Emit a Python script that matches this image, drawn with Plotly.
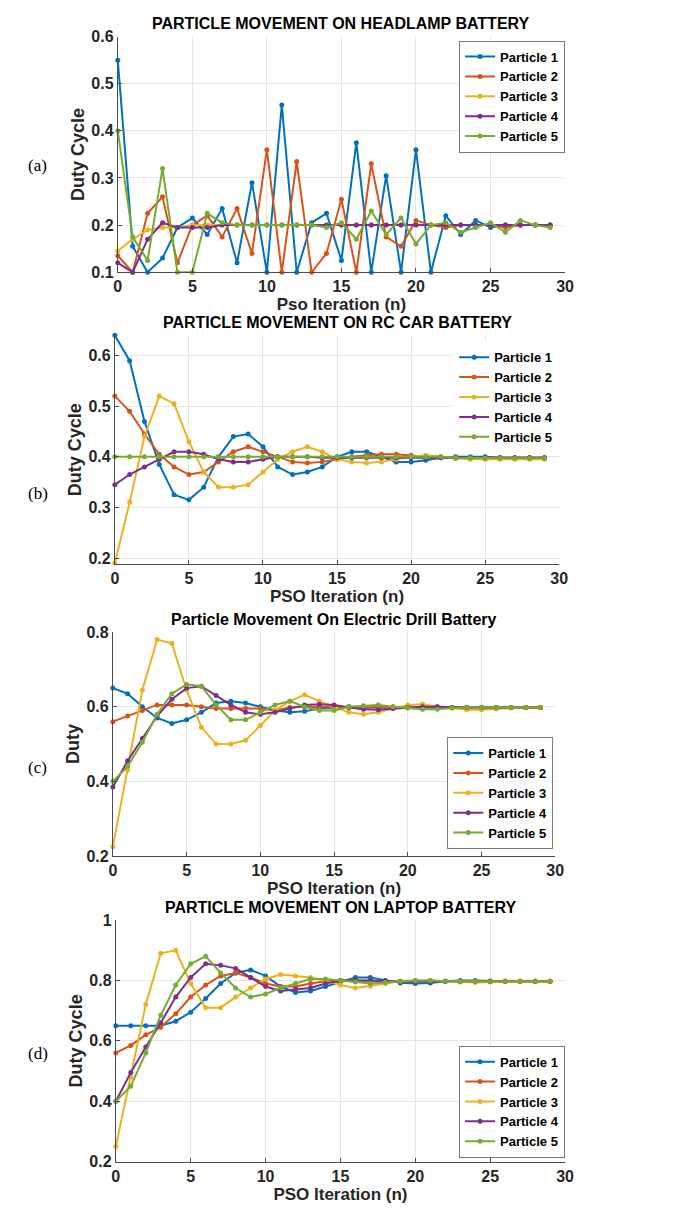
import plotly.graph_objects as go

iterations = list(range(30))
particle_names = ["Particle 1", "Particle 2", "Particle 3", "Particle 4", "Particle 5"]
colors = ["#0072BD", "#D95319", "#EDB120", "#7E2F8E", "#77AC30"]

# (a) Headlamp battery
headlamp_p1 = [0.55, 0.155, 0.10, 0.13, 0.195, 0.215, 0.18, 0.235, 0.12, 0.29, 0.10, 0.455, 0.10, 0.205, 0.225,
               0.125, 0.375, 0.10, 0.305, 0.10, 0.36, 0.10, 0.22, 0.18, 0.21, 0.195, 0.20, 0.20, 0.20, 0.20]
headlamp_p2 = [0.135, 0.10, 0.225, 0.26, 0.12, 0.20, 0.22, 0.175, 0.235, 0.14, 0.36, 0.10, 0.335, 0.10, 0.14,
               0.255, 0.10, 0.33, 0.175, 0.155, 0.21, 0.20, 0.195, 0.20, 0.20, 0.20, 0.195, 0.20, 0.20, 0.20]
headlamp_p3 = [0.145, 0.17, 0.19, 0.195, 0.195, 0.20, 0.20, 0.20, 0.20, 0.20, 0.20, 0.20, 0.20, 0.20, 0.20,
               0.20, 0.20, 0.20, 0.20, 0.20, 0.20, 0.20, 0.20, 0.20, 0.20, 0.20, 0.20, 0.20, 0.20, 0.20]
headlamp_p4 = [0.12, 0.10, 0.17, 0.205, 0.195, 0.195, 0.195, 0.20, 0.20, 0.20, 0.20, 0.20, 0.20, 0.20, 0.20,
               0.20, 0.20, 0.20, 0.20, 0.20, 0.20, 0.20, 0.20, 0.20, 0.20, 0.20, 0.20, 0.20, 0.20, 0.20]
headlamp_p5 = [0.40, 0.175, 0.125, 0.32, 0.10, 0.10, 0.225, 0.205, 0.20, 0.20, 0.20, 0.20, 0.20, 0.20, 0.195,
               0.205, 0.17, 0.23, 0.18, 0.215, 0.16, 0.20, 0.205, 0.185, 0.195, 0.205, 0.185, 0.21, 0.20, 0.195]

# (b) RC car battery
rc_p1 = [0.64, 0.59, 0.47, 0.385, 0.325, 0.315, 0.34, 0.40, 0.44, 0.445, 0.42, 0.38, 0.365, 0.37, 0.38,
         0.40, 0.41, 0.41, 0.40, 0.39, 0.39, 0.393, 0.398, 0.40, 0.40, 0.40, 0.398, 0.398, 0.398, 0.398]
rc_p2 = [0.52, 0.49, 0.445, 0.405, 0.38, 0.365, 0.37, 0.39, 0.41, 0.42, 0.41, 0.40, 0.39, 0.388, 0.39,
         0.395, 0.40, 0.403, 0.405, 0.405, 0.403, 0.40, 0.40, 0.397, 0.397, 0.398, 0.398, 0.398, 0.398, 0.398]
rc_p3 = [0.19, 0.31, 0.44, 0.52, 0.505, 0.43, 0.37, 0.34, 0.34, 0.345, 0.37, 0.395, 0.41, 0.42, 0.41,
         0.395, 0.39, 0.388, 0.39, 0.395, 0.40, 0.403, 0.40, 0.397, 0.395, 0.395, 0.395, 0.395, 0.395, 0.395]
rc_p4 = [0.345, 0.365, 0.38, 0.395, 0.41, 0.41, 0.405, 0.395, 0.39, 0.39, 0.395, 0.40, 0.40, 0.40, 0.398,
         0.398, 0.398, 0.398, 0.398, 0.398, 0.398, 0.398, 0.398, 0.398, 0.398, 0.398, 0.398, 0.398, 0.398, 0.398]
rc_p5 = [0.40, 0.40, 0.40, 0.40, 0.40, 0.40, 0.40, 0.40, 0.40, 0.40, 0.40, 0.40, 0.40, 0.40, 0.40,
         0.40, 0.40, 0.40, 0.40, 0.40, 0.40, 0.40, 0.40, 0.398, 0.398, 0.397, 0.397, 0.397, 0.397, 0.397]

# (c) Electric drill battery
drill_p1 = [0.65, 0.635, 0.60, 0.57, 0.555, 0.565, 0.585, 0.61, 0.615, 0.61, 0.60, 0.59, 0.585, 0.588, 0.595,
            0.598, 0.60, 0.598, 0.598, 0.598, 0.598, 0.598, 0.598, 0.598, 0.598, 0.598, 0.598, 0.598, 0.598, 0.598]
drill_p2 = [0.56, 0.575, 0.59, 0.605, 0.605, 0.605, 0.60, 0.595, 0.595, 0.595, 0.595, 0.59, 0.598, 0.60, 0.60,
            0.60, 0.60, 0.60, 0.60, 0.60, 0.60, 0.60, 0.60, 0.598, 0.598, 0.598, 0.598, 0.598, 0.598, 0.598]
drill_p3 = [0.225, 0.43, 0.645, 0.78, 0.77, 0.645, 0.545, 0.50, 0.50, 0.51, 0.55, 0.59, 0.615, 0.632, 0.615,
            0.60, 0.585, 0.58, 0.585, 0.595, 0.605, 0.607, 0.60, 0.597, 0.592, 0.592, 0.594, 0.597, 0.598, 0.598]
drill_p4 = [0.385, 0.455, 0.515, 0.575, 0.62, 0.65, 0.655, 0.63, 0.605, 0.585, 0.58, 0.585, 0.595, 0.605, 0.607,
            0.605, 0.598, 0.593, 0.592, 0.595, 0.598, 0.60, 0.60, 0.598, 0.598, 0.598, 0.598, 0.598, 0.598, 0.598]
drill_p5 = [0.40, 0.44, 0.505, 0.58, 0.635, 0.66, 0.655, 0.605, 0.565, 0.565, 0.585, 0.605, 0.615, 0.60, 0.59,
            0.59, 0.60, 0.603, 0.605, 0.60, 0.597, 0.593, 0.593, 0.597, 0.598, 0.598, 0.598, 0.598, 0.598, 0.598]

# (d) Laptop battery
laptop_p1 = [0.65, 0.65, 0.65, 0.65, 0.665, 0.695, 0.74, 0.79, 0.825, 0.835, 0.815, 0.78, 0.76, 0.765, 0.78,
             0.795, 0.81, 0.81, 0.80, 0.792, 0.79, 0.792, 0.797, 0.80, 0.80, 0.798, 0.797, 0.797, 0.797, 0.797]
laptop_p2 = [0.56, 0.585, 0.62, 0.645, 0.69, 0.745, 0.785, 0.815, 0.825, 0.81, 0.79, 0.78, 0.78, 0.79, 0.797,
             0.80, 0.80, 0.80, 0.797, 0.797, 0.797, 0.797, 0.797, 0.797, 0.797, 0.797, 0.797, 0.797, 0.797, 0.797]
laptop_p3 = [0.25, 0.48, 0.72, 0.89, 0.90, 0.79, 0.71, 0.71, 0.745, 0.775, 0.805, 0.82, 0.815, 0.81, 0.80,
             0.785, 0.775, 0.782, 0.79, 0.797, 0.80, 0.80, 0.797, 0.795, 0.793, 0.795, 0.797, 0.797, 0.797, 0.797]
laptop_p4 = [0.40, 0.495, 0.58, 0.66, 0.745, 0.81, 0.855, 0.85, 0.84, 0.81, 0.78, 0.765, 0.77, 0.775, 0.79,
             0.80, 0.80, 0.80, 0.798, 0.795, 0.797, 0.797, 0.797, 0.797, 0.797, 0.797, 0.797, 0.797, 0.797, 0.797]
laptop_p5 = [0.40, 0.45, 0.56, 0.685, 0.785, 0.855, 0.88, 0.825, 0.775, 0.745, 0.755, 0.775, 0.79, 0.805, 0.805,
             0.80, 0.795, 0.79, 0.793, 0.797, 0.80, 0.80, 0.797, 0.797, 0.797, 0.797, 0.797, 0.797, 0.797, 0.797]

panels = [
    ("PARTICLE MOVEMENT ON HEADLAMP BATTERY", "Pso Iteration (n)", "Duty Cycle",
     [headlamp_p1, headlamp_p2, headlamp_p3, headlamp_p4, headlamp_p5]),
    ("PARTICLE MOVEMENT ON RC CAR BATTERY", "PSO Iteration (n)", "Duty Cycle",
     [rc_p1, rc_p2, rc_p3, rc_p4, rc_p5]),
    ("Particle Movement On Electric Drill Battery", "PSO Iteration (n)", "Duty",
     [drill_p1, drill_p2, drill_p3, drill_p4, drill_p5]),
    ("PARTICLE MOVEMENT ON LAPTOP BATTERY", "PSO Iteration (n)", "Duty Cycle",
     [laptop_p1, laptop_p2, laptop_p3, laptop_p4, laptop_p5]),
]
panel_labels = ["(a)", "(b)", "(c)", "(d)"]
y_ranges = [[0.1, 0.6], [0.188, 0.64], [0.2, 0.8], [0.2, 1.0]]
y_ticks = [[0.1, 0.2, 0.3, 0.4, 0.5, 0.6], [0.2, 0.3, 0.4, 0.5, 0.6], [0.2, 0.4, 0.6, 0.8],
           [0.2, 0.4, 0.6, 0.8, 1.0]]
y_ticktext = [["0.1", "0.2", "0.3", "0.4", "0.5", "0.6"], ["0.2", "0.3", "0.4", "0.5", "0.6"],
              ["0.2", "0.4", "0.6", "0.8"], ["0.2", "0.4", "0.6", "0.8", "1"]]
x_ticks = [0, 5, 10, 15, 20, 25, 30]

W, H = 680, 1216
# pixel geometry of each plot area: (left, right, top, bottom)
boxes = [(116, 572, 29, 268), (113, 566, 332, 564), (111, 562, 633, 860), (114, 572, 925, 1170)]
label_y = [160, 492, 770, 1060]
legend_pos = [  # x(right px), y(px), yanchor
    (572, 33, "top"), (566, 338, "top"), (560, 853, "bottom"), (572, 1166, "bottom")]
legend_border = ["#7a7a7a", "#ffffff", "#7a7a7a", "#7a7a7a"]

fig = go.Figure()
fam = "Liberation Sans"

for i, (title, xt, yt, series) in enumerate(panels):
    k = "" if i == 0 else str(i + 1)
    leg = "legend" + k
    for j, ys in enumerate(series):
        fig.add_trace(go.Scatter(
            x=iterations, y=ys, mode="lines+markers", name=particle_names[j],
            line=dict(color=colors[j], width=2), marker=dict(color=colors[j], size=5),
            xaxis="x" + k, yaxis="y" + k, legend=leg, cliponaxis=False))
    l, r, t, b = boxes[i]
    common = dict(showline=True, linecolor="#4d4d4d", linewidth=1, showgrid=True,
                  gridcolor="#e6e6e6", gridwidth=1, zeroline=False, ticks="inside", ticklen=4,
                  tickcolor="#4d4d4d",
                  tickfont=dict(family=fam, size=16, color="#262626", weight="bold"))
    fig.update_layout(**{
        "xaxis" + k: dict(domain=[l / W, r / W], anchor="y" + k, range=[0, 30], tickvals=x_ticks,
                          title=dict(text=xt, font=dict(family=fam, size=17, color="#262626", weight="bold"),
                                     standoff=0), **common),
        "yaxis" + k: dict(domain=[1 - b / H, 1 - t / H], anchor="x" + k, range=y_ranges[i],
                          tickvals=y_ticks[i], ticktext=y_ticktext[i],
                          title=dict(text=yt, font=dict(family=fam, size=18, color="#262626", weight="bold"),
                                     standoff=2), **common),
        leg: dict(x=legend_pos[i][0] / W, xanchor="right", y=1 - legend_pos[i][1] / H,
                  yanchor=legend_pos[i][2], bgcolor="white", bordercolor=legend_border[i], borderwidth=1,
                  font=dict(family=fam, size=13, color="#000000", weight="bold"), itemwidth=30,
                  tracegroupgap=0),
    })
    fig.add_annotation(text=title, x=(l + r) / 2 / W, y=1 - (t - 13) / H,
                       xref="paper", yref="paper", showarrow=False, xanchor="center", yanchor="middle",
                       font=dict(family=fam, size=16, color="#000000", weight="bold"))
    fig.add_annotation(text=panel_labels[i], x=22 / W, y=1 - label_y[i] / H, xref="paper", yref="paper",
                       showarrow=False, xanchor="left", yanchor="middle",
                       font=dict(family="Liberation Serif", size=17, color="#000000"))

fig.update_layout(width=W, height=H, margin=dict(l=0, r=0, t=0, b=0), paper_bgcolor="white",
                  plot_bgcolor="white", showlegend=True)
fig.write_html("out.html")
